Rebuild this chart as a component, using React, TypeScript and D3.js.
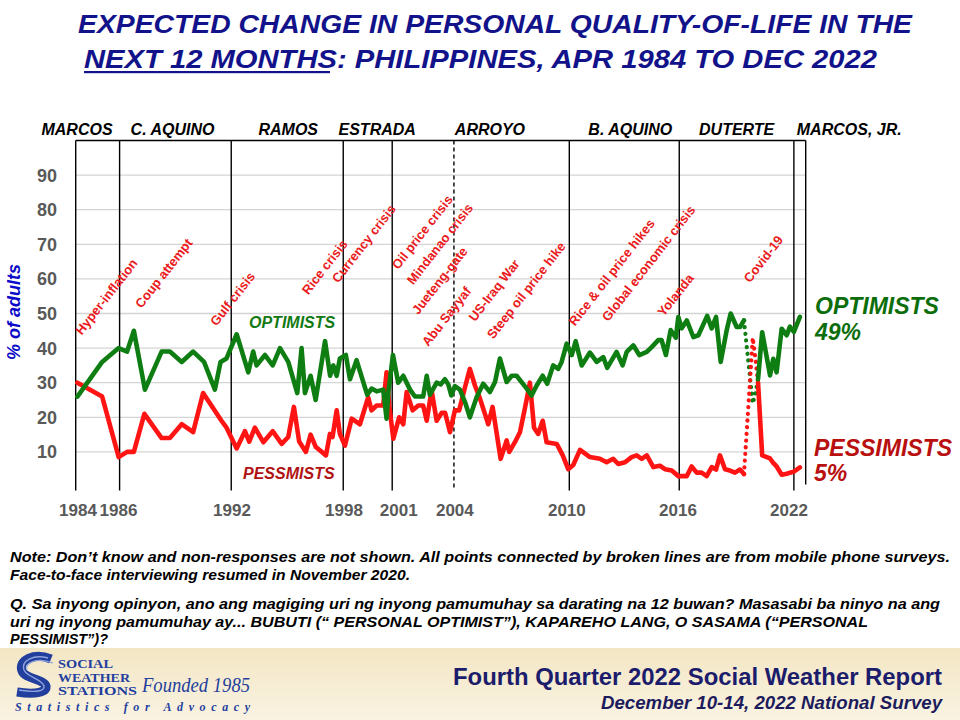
import React from "react";
import * as d3 from "d3";

// ---------- DATA (decimal year, % of adults) ----------
const optimistsF2F: [number, number][] = [
  [1984.25, 26], [1985.57, 36], [1986.45, 40], [1986.9, 39], [1987.26, 45], [1987.85, 28],
  [1988.74, 39], [1989.18, 39], [1989.81, 36], [1990.42, 39], [1991.0, 36], [1991.58, 28],
  [1991.88, 36], [1992.2, 37], [1992.74, 44], [1993.36, 33], [1993.62, 39], [1993.8, 35],
  [1994.25, 38], [1994.66, 35], [1995.05, 40], [1995.49, 36], [1995.97, 27], [1996.2, 40],
  [1996.38, 27], [1996.68, 32], [1996.95, 25], [1997.45, 42], [1997.72, 32], [1997.89, 35],
  [1998.07, 32], [1998.24, 37], [1998.56, 38], [1998.78, 31], [1999.13, 36.5], [1999.7, 26.5],
  [1999.93, 28.3], [2000.2, 27.5], [2000.55, 28], [2000.73, 19.6], [2000.82, 27], [2001.07, 38],
  [2001.35, 30], [2001.62, 32], [2001.98, 28], [2002.24, 26], [2002.68, 26], [2002.87, 32],
  [2003.04, 26.5], [2003.4, 30], [2003.61, 29.5], [2003.84, 31], [2004.02, 29.5], [2004.18, 26.3],
  [2004.37, 29], [2004.64, 28], [2004.91, 24.4], [2005.17, 20], [2005.53, 25.8], [2005.88, 29.7],
  [2006.24, 27.3], [2006.51, 30.2], [2006.77, 37], [2007.13, 30.2], [2007.4, 32], [2007.66, 32],
  [2008.2, 28.3], [2008.46, 26.3], [2008.73, 29.2], [2009.05, 32], [2009.29, 29.7], [2009.61, 35],
  [2009.88, 34], [2010.06, 36], [2010.33, 41.3], [2010.6, 38], [2010.81, 42], [2011.13, 35],
  [2011.57, 38.7], [2011.93, 36], [2012.28, 37.4], [2012.49, 34.3], [2012.99, 38.9], [2013.31, 35],
  [2013.53, 38.9], [2013.88, 40.8], [2014.2, 38], [2014.6, 38.9], [2014.86, 40.3], [2015.21, 42.3],
  [2015.39, 42.3], [2015.62, 38], [2015.87, 45.2], [2016.15, 43], [2016.28, 49], [2016.46, 45.7],
  [2016.73, 48], [2017.08, 43.2], [2017.35, 43.7], [2017.82, 49.3], [2018.06, 45.7], [2018.29, 49],
  [2018.54, 36], [2018.86, 45.2], [2019.07, 50], [2019.39, 46.1], [2019.57, 46.1], [2019.78, 48],
];
const optimistsMobile: [number, number][] = [
  [2019.78, 48], [2020.25, 24], [2020.39, 27], [2020.53, 31],
];
const optimistsF2FResumed: [number, number][] = [
  [2020.53, 31], [2020.75, 44.6], [2021.17, 32.1], [2021.34, 36.9], [2021.52, 33],
  [2021.79, 45.6], [2022.06, 43.7], [2022.23, 46.2], [2022.44, 44.7], [2022.76, 49],
];

const pessimistsF2F: [number, number][] = [
  [1984.25, 30], [1985.57, 26], [1986.45, 8.5], [1986.9, 10], [1987.26, 10], [1987.82, 21],
  [1988.74, 14], [1989.18, 14], [1989.81, 18], [1990.42, 15.7], [1990.95, 27], [1991.93, 19],
  [1992.2, 17], [1992.74, 11], [1993.18, 16], [1993.41, 13], [1993.71, 17], [1994.16, 12.8],
  [1994.66, 16], [1995.14, 12.3], [1995.49, 14.3], [1995.79, 23], [1996.07, 13], [1996.43, 10],
  [1996.68, 15], [1996.96, 11.4], [1997.5, 9], [1997.71, 15.2], [1997.85, 14.3], [1998.07, 22],
  [1998.24, 15.2], [1998.51, 11.8], [1998.87, 19.6], [1999.31, 18], [1999.75, 25.8], [1999.93, 22],
  [2000.2, 23.4], [2000.55, 23.4], [2000.73, 33], [2000.87, 23.4], [2001.09, 13.8], [2001.4, 20],
  [2001.62, 18], [2001.8, 27.3], [2002.12, 22], [2002.42, 23.4], [2002.68, 23.4], [2002.87, 19],
  [2003.13, 27.8], [2003.4, 19], [2003.67, 21.3], [2003.85, 21.3], [2004.11, 15.7], [2004.37, 22],
  [2004.6, 22], [2004.91, 28.7], [2005.17, 34], [2005.44, 29.2], [2005.71, 25.4], [2006.15, 18],
  [2006.38, 23], [2006.81, 8], [2007.13, 13.3], [2007.27, 10], [2007.57, 12.8], [2007.84, 15.7],
  [2008.1, 22.5], [2008.37, 30], [2008.59, 17], [2008.81, 15.2], [2009.05, 19], [2009.26, 12.8],
  [2009.8, 12.3], [2010.12, 9], [2010.41, 5], [2010.68, 6.2], [2011.04, 10.6], [2011.57, 8.5],
  [2012.1, 8], [2012.46, 7], [2012.81, 8], [2013.08, 6.5], [2013.44, 7], [2013.79, 8.5],
  [2014.06, 9], [2014.33, 8], [2014.6, 9], [2014.95, 5.6], [2015.3, 6], [2015.57, 5],
  [2015.93, 4.6], [2016.28, 3], [2016.73, 3], [2016.99, 5.8], [2017.26, 4], [2017.52, 4],
  [2017.79, 3], [2018.06, 5.6], [2018.29, 4.9], [2018.5, 9], [2018.77, 5], [2019.03, 4.6],
  [2019.3, 4], [2019.57, 4.9], [2019.78, 3.6],
];
const pessimistsMobile: [number, number][] = [
  [2019.78, 3.6], [2020.25, 43], [2020.39, 37], [2020.53, 30],
];
const pessimistsF2FResumed: [number, number][] = [
  [2020.53, 30], [2020.75, 9], [2021.17, 8.1], [2021.34, 6.8], [2021.52, 5.8],
  [2021.79, 3.4], [2022.06, 3.7], [2022.23, 4], [2022.44, 4.3], [2022.76, 5.5],
];

const yTicks = [10, 20, 30, 40, 50, 60, 70, 80, 90];
const tickLabels = ["1984", "1986", "1992", "1998", "2001", "2004", "2010", "2016", "2022"];
const tickLabelYears = [1984.28, 1986.44, 1992.49, 1998.46, 2001.38, 2004.37, 2010.34, 2016.26, 2022.18];

const termDividers = [1986.5, 1992.45, 1998.42, 2001.03, 2010.47, 2016.33, 2022.44];
const secondTermDivider = [2004.32];

const presidents = ["MARCOS", "C. AQUINO", "RAMOS", "ESTRADA", "ARROYO", "B. AQUINO", "DUTERTE", "MARCOS, JR."];
const presidentCenters = [1984.23, 1989.32, 1995.49, 2000.23, 2006.24, 2013.72, 2019.39, 2025.39];

const events = [
  "Hyper-inflation", "Coup attempt", "Gulf crisis", "Rice crisis", "Currency crisis",
  "Oil price crisis", "Mindanao crisis", "Jueteng-gate", "Abu Sayyaf", "US-Iraq War",
  "Steep oil price hike", "Rice & oil price hikes", "Global economic crisis", "Yolanda", "Covid-19",
];
const eventYears = [1984.48, 1987.67, 1991.67, 1996.55, 1998.15, 2001.35, 2002.15, 2002.42, 2002.95, 2005.44, 2006.42, 2010.77, 2012.55, 2015.51, 2020.1];
const eventLevels = [43.6, 51.3, 46.2, 55.2, 58.6, 62.5, 58.1, 49.5, 40.3, 47.5, 42.4, 46.2, 47.5, 48.9, 58.7];

const latestOptimists = "49%";
const latestPessimists = "5%";

// ---------- LAYOUT ----------
const W = 960;
const H = 720;
const plot = { left: 75.7, right: 805.7, top: 140.5, bottom: 486.5 };
const SANS = "'Liberation Sans', Arial, Helvetica, sans-serif";
const SERIF = "'Liberation Serif', 'Times New Roman', serif";
const GREEN = "#0e7d12";
const RED = "#ff1414";
const NAVY = "#12128a";
const LOGO = "#233f9e";

export default function App() {
  const x = d3.scaleLinear().domain([1984.16, 2023.07]).range([plot.left, plot.right]);
  const y = d3.scaleLinear().domain([0, 100]).range([plot.bottom, plot.top]);
  const line = d3
    .line<[number, number]>()
    .x((d) => x(d[0]))
    .y((d) => y(d[1]));

  const solid = { fill: "none", strokeWidth: 4.6, strokeLinejoin: "round" as const, strokeLinecap: "round" as const };
  const dotted = { fill: "none", strokeWidth: 4.2, strokeLinecap: "round" as const, strokeDasharray: "0.1 6.6" };

  return (
    <svg
      width={W}
      height={H}
      viewBox={`0 0 ${W} ${H}`}
      style={{ position: "absolute", left: 0, top: 0, background: "#fff" }}
    >
      <defs>
        <linearGradient id="footerBg" x1="0" y1="0" x2="0" y2="1">
          <stop offset="0" stopColor="#f3e6c4" />
          <stop offset="1" stopColor="#faf3e2" />
        </linearGradient>
      </defs>
      <rect x={0} y={0} width={W} height={H} fill="#fff" />

      {/* Title */}
      <g fontFamily={SANS} fontWeight="bold" fontStyle="italic" fill={NAVY} fontSize={26}>
        <text x={78} y={33} textLength={834} lengthAdjust="spacingAndGlyphs">
          EXPECTED CHANGE IN PERSONAL QUALITY-OF-LIFE IN THE
        </text>
        <text x={84} y={68} textLength={793} lengthAdjust="spacingAndGlyphs">
          NEXT 12 MONTHS: PHILIPPINES, APR 1984 TO DEC 2022
        </text>
        <rect x={84} y={71} width={246} height={2.2} fill={NAVY} />
      </g>

      {/* Presidents */}
      <g fontFamily={SANS} fontWeight="bold" fontStyle="italic" fontSize={16} fill="#000" textAnchor="middle">
        {presidents.map((p, i) => (
          <text key={p} x={x(presidentCenters[i])} y={135}>
            {p}
          </text>
        ))}
      </g>

      {/* Gridlines */}
      <g>
        {yTicks.map((t) => (
          <line key={t} x1={plot.left} x2={plot.right} y1={y(t)} y2={y(t)} stroke="#d4d4d4" strokeWidth={1.3} />
        ))}
      </g>

      {/* Frame and dividers */}
      <g stroke="#000" strokeWidth={1.4}>
        <line x1={plot.left} x2={plot.right} y1={plot.top} y2={plot.top} />
        <line x1={plot.left} x2={plot.left} y1={plot.top} y2={plot.bottom + 4} />
        <line x1={plot.right} x2={plot.right} y1={plot.top} y2={plot.bottom - 2} />
        {termDividers.map((d) => (
          <line key={d} x1={x(d)} x2={x(d)} y1={plot.top} y2={plot.bottom + 4} />
        ))}
        {secondTermDivider.map((d) => (
          <line key={d} x1={x(d)} x2={x(d)} y1={plot.top} y2={plot.bottom + 4} strokeDasharray="4 3" />
        ))}
      </g>

      {/* Y axis */}
      <g fontFamily={SANS} fontWeight="bold" fontSize={18} fill="#595959" textAnchor="end">
        {yTicks.map((t) => (
          <text key={t} x={57} y={y(t) + 6.5}>
            {t}
          </text>
        ))}
      </g>
      <text
        transform="translate(20, 360) rotate(-90)"
        fontFamily={SANS}
        fontWeight="bold"
        fontStyle="italic"
        fontSize={18}
        fill="#0a0ac8"
      >
        % of adults
      </text>

      {/* X tick labels */}
      <g fontFamily={SANS} fontWeight="bold" fontSize={17} fill="#595959" textAnchor="middle">
        {tickLabels.map((l, i) => (
          <text key={l} x={x(tickLabelYears[i])} y={516}>
            {l}
          </text>
        ))}
      </g>

      {/* Event annotations */}
      <g fontFamily={SANS} fontWeight="bold" fontSize={13} fill="#ea1a20">
        {events.map((e, i) => (
          <text key={e} transform={`translate(${x(eventYears[i])}, ${y(eventLevels[i])}) rotate(-52)`}>
            {e}
          </text>
        ))}
      </g>

      {/* Series */}
      <path d={line(pessimistsF2F) || ""} stroke={RED} {...solid} />
      <path d={line(optimistsF2F) || ""} stroke={GREEN} {...solid} />
      <path d={line(optimistsMobile) || ""} stroke={GREEN} {...dotted} />
      <path d={line(pessimistsMobile) || ""} stroke={RED} {...dotted} />
      <path d={line(pessimistsF2FResumed) || ""} stroke={RED} {...solid} />
      <path d={line(optimistsF2FResumed) || ""} stroke={GREEN} {...solid} />

      {/* In-plot labels */}
      <text x={249} y={328} fontFamily={SANS} fontWeight="bold" fontStyle="italic" fontSize={16} fill="#137a13">
        OPTIMISTS
      </text>
      <text x={243} y={479} fontFamily={SANS} fontWeight="bold" fontStyle="italic" fontSize={16} fill="#b01313">
        PESSMISTS
      </text>

      {/* End labels */}
      <g fontFamily={SANS} fontWeight="bold" fontStyle="italic" fontSize={23}>
        <text x={815} y={314} fill="#0b6e0b">OPTIMISTS</text>
        <text x={815} y={340} fill="#0b6e0b">{latestOptimists}</text>
        <text x={814} y={456} fill="#b80f0f">PESSIMISTS</text>
        <text x={814} y={481} fill="#b80f0f">{latestPessimists}</text>
      </g>

      {/* Notes */}
      <g fontFamily={SANS} fontWeight="bold" fontStyle="italic" fontSize={14.5} fill="#000">
        <text x={10} y={562} textLength={940} lengthAdjust="spacingAndGlyphs">
          Note: Don’t know and non-responses are not shown. All points connected by broken lines are from mobile phone surveys.
        </text>
        <text x={10} y={580} textLength={400} lengthAdjust="spacingAndGlyphs">
          Face-to-face interviewing resumed in November 2020.
        </text>
        <text x={10} y={609} textLength={930} lengthAdjust="spacingAndGlyphs">
          Q. Sa inyong opinyon, ano ang magiging  uri ng inyong pamumuhay sa darating  na 12 buwan? Masasabi ba ninyo na ang
        </text>
        <text x={10} y={627} textLength={858} lengthAdjust="spacingAndGlyphs">
          uri ng inyong pamumuhay ay... BUBUTI (“ PERSONAL OPTIMIST”), KAPAREHO LANG, O SASAMA (“PERSONAL
        </text>
        <text x={10} y={644} textLength={98} lengthAdjust="spacingAndGlyphs">
          PESSIMIST”)?
        </text>
      </g>

      {/* Footer */}
      <rect x={0} y={648} width={W} height={72} fill="url(#footerBg)" />
      <g>
        <path d="M51 659 C 34 652, 18 660, 22 671 C 25 679, 44 679, 46 686 C 47 692, 36 695, 17 692" fill="none" stroke={LOGO} strokeWidth={9} strokeLinecap="butt" />
        <path d="M48 658 C 33 654, 21 661, 24 670 C 27 677, 42 679, 44 686 C 45 691, 36 693, 19 690" fill="none" stroke="#8ea3dd" strokeWidth={1.4} />
        <path d="M53 663 C 37 657, 24 663, 27 670" fill="none" stroke="#8ea3dd" strokeWidth={1.2} />
        <g fontFamily={SERIF} fontWeight="bold" fill={LOGO} fontSize={12}>
          <text x={58} y={668} textLength={55} lengthAdjust="spacingAndGlyphs">SOCIAL</text>
          <text x={58} y={681.5} textLength={72} lengthAdjust="spacingAndGlyphs">WEATHER</text>
          <text x={58} y={695} textLength={79} lengthAdjust="spacingAndGlyphs">STATIONS</text>
        </g>
        <text x={142} y={692} fontFamily={SERIF} fontStyle="italic" fontSize={22} fill={LOGO} textLength={108} lengthAdjust="spacingAndGlyphs">
          Founded 1985
        </text>
        <text x={15} y={711} fontFamily={SERIF} fontStyle="italic" fontWeight="bold" fontSize={12} fill={LOGO} textLength={235} lengthAdjust="spacing">
          Statistics for Advocacy
        </text>
      </g>
      <text x={453} y={685} fontFamily={SANS} fontWeight="bold" fontSize={23} fill="#1c1c6c" textLength={489} lengthAdjust="spacingAndGlyphs">
        Fourth Quarter 2022 Social Weather Report
      </text>
      <text x={601} y={709} fontFamily={SANS} fontWeight="bold" fontStyle="italic" fontSize={19} fill="#1c1c5c" textLength={341} lengthAdjust="spacingAndGlyphs">
        December 10-14, 2022 National Survey
      </text>
    </svg>
  );
}
